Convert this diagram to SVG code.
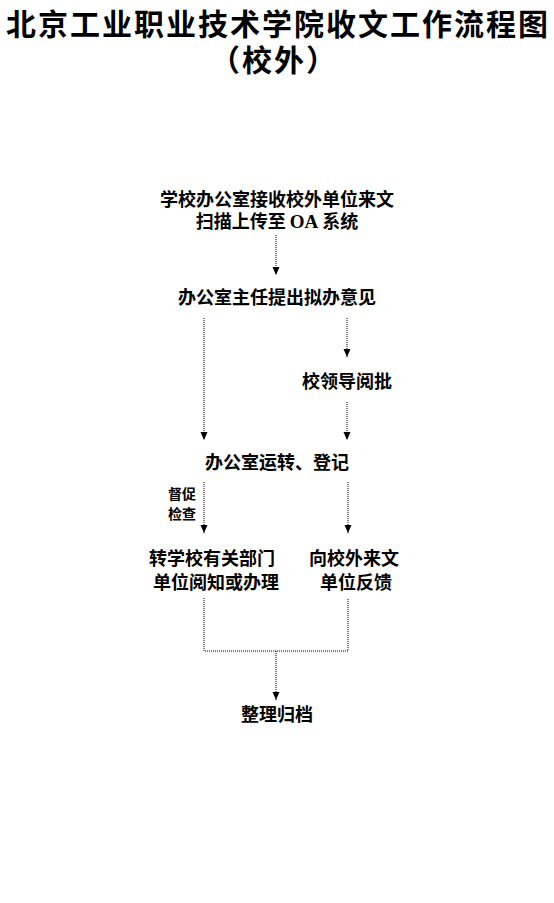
<svg xmlns="http://www.w3.org/2000/svg" width="554" height="903" viewBox="0 0 554 903">
<style>
.t{font-family:"Noto Sans CJK SC","Noto Sans",sans-serif;font-weight:bold;fill:#000}
.title{font-size:30px;letter-spacing:2px}
.b{font-size:18px}
.s{font-size:14px}
.c{fill:none;stroke:#000;stroke-width:1;stroke-dasharray:1 1}
</style>
<defs>
<marker id="ah" markerUnits="userSpaceOnUse" markerWidth="9" markerHeight="8" refX="8" refY="4" orient="auto" viewBox="0 0 9 8">
<path d="M0 0.5 L8 4 L0 7.5 Z" fill="#000"/>
</marker>
</defs>
<rect width="554" height="903" fill="#fff"/>
<g id="title">
<text class="t title" text-anchor="middle"><tspan x="278" y="35">北京工业职业技术学院收文工作流程图</tspan><tspan x="274" y="71">（校外）</tspan></text>
</g>
<g id="connectors">
<path class="c" d="M276 235 V275" marker-end="url(#ah)"/>
<path class="c" d="M204 318 V440" marker-end="url(#ah)"/>
<path class="c" d="M347 318 V357" marker-end="url(#ah)"/>
<path class="c" d="M347 402 V440" marker-end="url(#ah)"/>
<path class="c" d="M204 482 V533" marker-end="url(#ah)"/>
<path class="c" d="M348 482 V533" marker-end="url(#ah)"/>
<path class="c" d="M204 598 V651 H348 V598"/>
<path class="c" d="M276 651 V700" marker-end="url(#ah)"/>
<g id="label-supervise">
<text class="t s" text-anchor="middle"><tspan x="182" y="499">督促</tspan><tspan x="182" y="519">检查</tspan></text>
</g>
</g>
<g id="n1">
<text class="t b" text-anchor="middle"><tspan x="277" y="206">学校办公室接收校外单位来文</tspan><tspan x="277" y="228">扫描上传至 </tspan><tspan font-family="Liberation Serif" font-size="19">OA</tspan><tspan> 系统</tspan></text>
</g>
<g id="n2">
<text class="t b" x="277" y="304" text-anchor="middle">办公室主任提出拟办意见</text>
</g>
<g id="n3">
<text class="t b" x="347" y="388" text-anchor="middle">校领导阅批</text>
</g>
<g id="n4">
<text class="t b" x="277" y="469" text-anchor="middle">办公室运转、登记</text>
</g>
<g id="n5">
<text class="t b" text-anchor="middle"><tspan x="212" y="565">转学校有关部门</tspan><tspan x="216" y="589">单位阅知或办理</tspan></text>
</g>
<g id="n6">
<text class="t b" text-anchor="middle"><tspan x="354" y="565">向校外来文</tspan><tspan x="356" y="589">单位反馈</tspan></text>
</g>
<g id="n7">
<text class="t b" x="277" y="721" text-anchor="middle">整理归档</text>
</g>
</svg>
